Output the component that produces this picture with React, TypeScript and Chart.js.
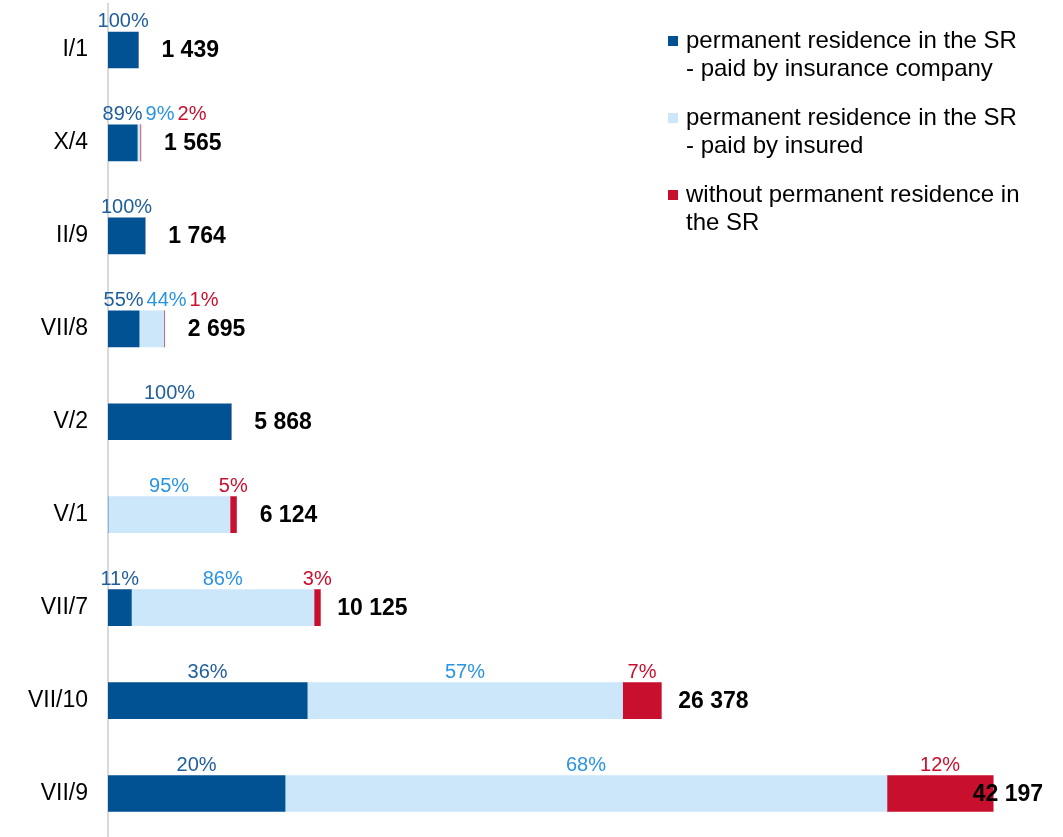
import React, { useEffect, useRef } from "react";
import { Chart, registerables } from "chart.js";

Chart.register(...registerables);

const categories = ["I/1", "X/4", "II/9", "VII/8", "V/2", "V/1", "VII/7", "VII/10", "VII/9"];
const totals = [1439, 1565, 1764, 2695, 5868, 6124, 10125, 26378, 42197];
const totalLabels = ["1 439", "1 565", "1 764", "2 695", "5 868", "6 124", "10 125", "26 378", "42 197"];
const pctInsurer = [100, 89, 100, 55, 100, 0, 11, 36, 20];
const pctInsured = [0, 9, 0, 44, 0, 95, 86, 57, 68];
const pctNoResidence = [0, 2, 0, 1, 0, 5, 3, 7, 12];
const seriesNames = [
  ["permanent residence in the SR", "- paid by insurance company"],
  ["permanent residence in the SR", "- paid by insured"],
  ["without permanent residence in", "the SR"],
];
const barColors = ["#005293", "#CCE6FA", "#C80F2E"];
const pctLabelColors = ["#1F5E9C", "#2A93E2", "#C8102E"];
const xMax = 45000;

const FONT = "'Liberation Sans', Arial, sans-serif";

const labelPlugin = {
  id: "segmentLabels",
  afterDatasetsDraw(chart: any) {
    const ctx = chart.ctx;
    const pcts = [pctInsurer, pctInsured, pctNoResidence];
    ctx.save();
    for (let i = 0; i < categories.length; i++) {
      let prevRight = -Infinity;
      let barEnd = 0;
      let barY = 0;
      for (let d = 0; d < chart.data.datasets.length; d++) {
        const el: any = chart.getDatasetMeta(d).data[i];
        if (!el) continue;
        const top = el.y - el.height / 2;
        barY = el.y;
        barEnd = Math.max(barEnd, el.x);
        const p = pcts[d][i];
        if (!p) continue;
        const text = p + "%";
        ctx.font = `20px ${FONT}`;
        const w = ctx.measureText(text).width;
        const center = (el.x + el.base) / 2;
        const cx = Math.max(center, prevRight + 3 + w / 2);
        prevRight = cx + w / 2;
        ctx.fillStyle = pctLabelColors[d];
        ctx.textAlign = "center";
        ctx.textBaseline = "alphabetic";
        ctx.fillText(text, cx, top - 5);
      }
      ctx.font = `bold 23px ${FONT}`;
      const tw = ctx.measureText(totalLabels[i]).width;
      let tx = barEnd + 52 - tw / 2;
      tx = Math.min(tx, chart.chartArea.right - 9 - tw);
      ctx.fillStyle = "#000";
      ctx.textAlign = "left";
      ctx.textBaseline = "middle";
      ctx.fillText(totalLabels[i], tx, barY + 1);
    }
    ctx.restore();
  },
};

export default function App() {
  const canvasRef = useRef<HTMLCanvasElement | null>(null);

  useEffect(() => {
    if (!canvasRef.current) return;
    const pcts = [pctInsurer, pctInsured, pctNoResidence];
    const chart = new Chart(canvasRef.current, {
      type: "bar",
      data: {
        labels: categories,
        datasets: pcts.map((arr, d) => ({
          label: seriesNames[d].join(" "),
          data: arr.map((p, i) => (totals[i] * p) / 100),
          backgroundColor: barColors[d],
          borderWidth: 0,
          barThickness: 36,
        })),
      },
      options: {
        indexAxis: "y",
        animation: false,
        responsive: true,
        maintainAspectRatio: false,
        layout: { padding: { top: 3.5, right: 11, bottom: 0, left: 0 } },
        plugins: {
          legend: { display: false },
          tooltip: { enabled: false },
        },
        scales: {
          x: {
            stacked: true,
            display: false,
            min: 0,
            max: xMax,
          },
          y: {
            stacked: true,
            grid: { display: false, drawTicks: false },
            border: { display: true, color: "#D9D9D9", width: 2 },
            ticks: {
              color: "#000",
              padding: 20,
              font: { family: FONT, size: 23 },
            },
            afterFit: (scale: any) => {
              scale.width = 108;
              scale.paddingTop = 0;
              scale.paddingBottom = 0;
            },
          },
        },
      },
      plugins: [labelPlugin],
    });
    return () => chart.destroy();
  }, []);

  return (
    <div
      style={{
        position: "fixed",
        left: 0,
        top: 0,
        width: 1063,
        height: 840,
        background: "#fff",
        fontFamily: FONT,
      }}
    >
      <canvas ref={canvasRef} />
      <div style={{ position: "absolute", left: 668, top: 26, color: "#000" }}>
        {seriesNames.map((lines, d) => (
          <div key={d} style={{ position: "relative", marginBottom: 22 }}>
            <div
              style={{
                position: "absolute",
                left: 0,
                top: 10,
                width: 10,
                height: 10,
                background: barColors[d],
              }}
            />
            <div style={{ marginLeft: 18, fontSize: 24, lineHeight: "27.5px", whiteSpace: "nowrap" }}>
              {lines.map((l, k) => (
                <div key={k}>{l}</div>
              ))}
            </div>
          </div>
        ))}
      </div>
    </div>
  );
}
